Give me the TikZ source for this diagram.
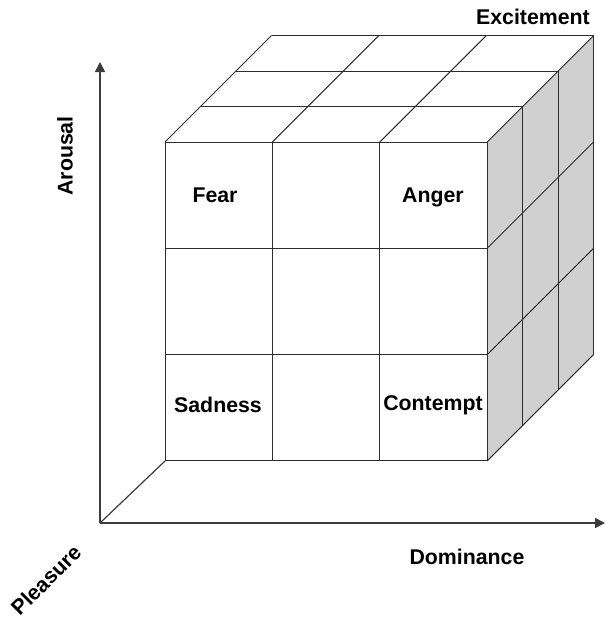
\documentclass[tikz,border=0pt]{standalone}
\usepackage{fontspec}
\setmainfont{Liberation Sans}
\usetikzlibrary{arrows.meta}
\definecolor{sidegray}{RGB}{208,208,208}
\definecolor{edgec}{RGB}{45,45,45}
\definecolor{axisc}{RGB}{60,60,60}
\tikzset{
  cubeline/.style={draw=edgec, line width=1pt},
  axisline/.style={draw=axisc, line width=1.6pt, -{Triangle[length=10pt,width=10pt]}},
  lbl/.style={font=\fontsize{21.3}{24}\selectfont\bfseries, inner sep=0pt, text=black},
  blbl/.style={lbl, anchor=base},
}
\begin{document}
\begin{tikzpicture}[x=1pt,y=-1pt]
\useasboundingbox (0,0) rectangle (605,618);
\def\W{107.4}\def\H{106.33}\def\D{35.5}
% faces
\fill[white] (165,142) -- (487.2,142) -- (593.7,35.5) -- (271.5,35.5) -- cycle;
\fill[sidegray] (487.2,142) -- (593.7,35.5) -- (593.7,354.5) -- (487.2,461) -- cycle;
% front grid
\foreach \i in {0,...,3} {\draw[cubeline] ({165+\i*\W},142) -- ({165+\i*\W},461);}
\foreach \j in {0,...,3} {\draw[cubeline] (165,{142+\j*\H}) -- (487.2,{142+\j*\H});}
% top grid
\foreach \k in {1,...,3} {\draw[cubeline] ({165+\k*\D},{142-\k*\D}) -- ({487.2+\k*\D},{142-\k*\D});}
\foreach \i in {0,...,3} {\draw[cubeline] ({165+\i*\W},142) -- ({165+\i*\W+3*\D},{142-3*\D});}
% right grid
\foreach \k in {1,...,3} {\draw[cubeline, line width=1.3pt] ({487.2+\k*\D},{142-\k*\D}) -- ({487.2+\k*\D},{461-\k*\D});}
\foreach \j in {1,...,3} {\draw[cubeline] (487.2,{142+\j*\H}) -- (593.7,{35.5+\j*\H});}
% axes
\coordinate (O) at (100,523);
\coordinate (ytop) at (100,62);
\coordinate (xend) at (605,523);
\coordinate (C) at (165,461);
\draw[axisline] (O) -- (ytop);
\draw[axisline] (O) -- (xend);
\draw[cubeline, draw=axisc, line width=1.2pt] (O) -- (C);
% labels
\node[blbl] (fear) at (215,202) {Fear};
\node[blbl] (anger) at (433,202) {Anger};
\node[blbl] (sadness) at (218,412) {Sadness};
\node[blbl] (contempt) at (433,410) {Contempt};
\node[blbl] (excitement) at (533,25) {Excitement};
\node[blbl] (dominance) at (467,564) {Dominance};
\node[lbl, rotate=90] (arousal) at (65,156) {Arousal};
\node[lbl, rotate=45] (pleasure) at (46,580) {Pleasure};
\end{tikzpicture}
\end{document}
